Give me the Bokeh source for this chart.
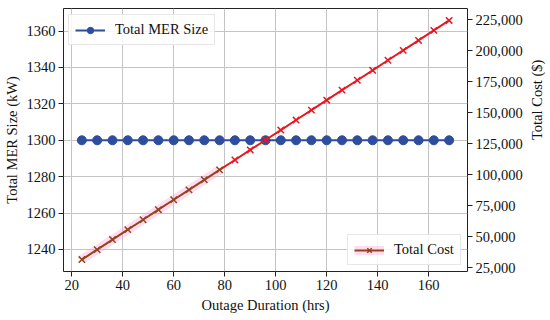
import math
from bokeh.plotting import figure
from bokeh.models import Range1d, LinearAxis, FixedTicker, NumeralTickFormatter, Legend, LegendItem
from bokeh.embed import file_html
from bokeh.resources import INLINE

hours = [24, 30, 36, 42, 48, 54, 60, 66, 72, 78, 84, 90, 96, 102, 108, 114, 120, 126, 132, 138, 144, 150, 156, 162, 168]
mer_size = [1300, 1300, 1300, 1300, 1300, 1300, 1300, 1300, 1300, 1300, 1300, 1300, 1300,
            1300, 1300, 1300, 1300, 1300, 1300, 1300, 1300, 1300, 1300, 1300, 1300]
total_cost = [31500, 39500, 47600, 55600, 63600, 71700, 79700, 87700, 95800, 103800, 111800, 119900, 127900,
              135900, 144000, 152000, 160000, 168100, 176100, 184100, 192200, 200200, 208200, 216300, 224300]
x_ticks = [20, 40, 60, 80, 100, 120, 140, 160]
mer_ticks = [1240, 1260, 1280, 1300, 1320, 1340, 1360]
cost_ticks = [25000, 50000, 75000, 100000, 125000, 150000, 175000, 200000, 225000]

FONT = "'Liberation Serif'"
FS = "14.5px"
BLUE = "#2E4D9E"
RED = "#ea1620"
BROWN = "#94421f"
GLOW = "#ff9fd0"

p = figure(frame_width=404, frame_height=263, output_backend="svg", toolbar_location=None,
           x_range=Range1d(16.8, 175.2), y_range=Range1d(1227.9, 1372.4),
           min_border_left=55, min_border_right=75, min_border_top=8, min_border_bottom=40,
           background_fill_color="white", border_fill_color="white")
p.extra_y_ranges = {"cost": Range1d(21860, 233940)}

p.outline_line_color = "#222222"
p.outline_line_width = 1
p.xgrid.grid_line_color = "#c4c4c4"
p.ygrid.grid_line_color = "#c4c4c4"
p.xgrid.ticker = FixedTicker(ticks=x_ticks)
p.ygrid.ticker = FixedTicker(ticks=mer_ticks)

def style_axis(ax):
    ax.axis_line_color = None
    ax.major_tick_out = 5
    ax.major_tick_in = 0
    ax.minor_tick_out = 0
    ax.minor_tick_in = 0
    ax.major_tick_line_color = "#222222"
    ax.major_label_text_font = FONT
    ax.major_label_text_font_size = FS
    ax.major_label_text_color = "#111111"
    ax.axis_label_text_font = FONT
    ax.axis_label_text_font_size = FS
    ax.axis_label_text_font_style = "normal"
    ax.axis_label_text_color = "#111111"
    ax.major_label_standoff = 3
    ax.axis_label_standoff = 4

p.xaxis.ticker = FixedTicker(ticks=x_ticks)
p.xaxis.axis_label = "Outage Duration (hrs)"
p.yaxis.ticker = FixedTicker(ticks=mer_ticks)
p.yaxis.axis_label = "Total MER Size (kW)"
style_axis(p.xaxis[0])
style_axis(p.yaxis[0])

right = LinearAxis(y_range_name="cost", axis_label="Total Cost ($)",
                   ticker=FixedTicker(ticks=cost_ticks),
                   formatter=NumeralTickFormatter(format="0,0"))
style_axis(right)
right.axis_label_orientation = math.pi / 2
right.axis_label_standoff = 11
p.add_layout(right, "right")

# MER size
r_mer_line = p.line(hours, mer_size, line_color=BLUE, line_width=2)
r_mer_pts = p.scatter(hours, mer_size, marker="circle", size=9, fill_color=BLUE, line_color=BLUE)

# Total cost
n_b = 10
r_glow = p.line(hours[:n_b], total_cost[:n_b], y_range_name="cost", line_color=GLOW, line_width=9, line_alpha=0.35)
r_brown = p.line(hours[:n_b], total_cost[:n_b], y_range_name="cost", line_color=BROWN, line_width=2)
r_red = p.line(hours[n_b - 1:], total_cost[n_b - 1:], y_range_name="cost", line_color=RED, line_width=2)
r_bx = p.scatter(hours[:n_b], total_cost[:n_b], y_range_name="cost", marker="x", size=9,
                 line_color=BROWN, line_width=1.5)
r_rx = p.scatter(hours[n_b:], total_cost[n_b:], y_range_name="cost", marker="x", size=9,
                 line_color=RED, line_width=1.5)

def make_legend(items, loc):
    lg = Legend(items=items, location=loc, padding=6, spacing=0, margin=0,
                glyph_width=30, glyph_height=16, label_height=16, label_standoff=10,
                label_text_font=FONT, label_text_font_size=FS, label_text_color="#111111",
                border_line_color="#d0d0d0", border_line_width=1,
                background_fill_color="white", background_fill_alpha=0.85)
    return lg

leg1 = make_legend([LegendItem(label="Total MER Size", renderers=[r_mer_line, r_mer_pts])], (5, 226))
leg2 = make_legend([LegendItem(label="Total Cost", renderers=[r_glow, r_brown, r_bx])], (284, 6))
p.add_layout(leg1)
p.add_layout(leg2)

open("out.html", "w").write(file_html(p, INLINE))
